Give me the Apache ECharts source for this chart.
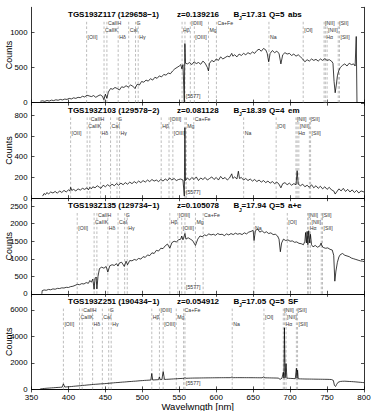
<!DOCTYPE html>
<html><head><meta charset="utf-8">
<script src="https://cdn.jsdelivr.net/npm/echarts@6/dist/echarts.min.js"></script>
<style>html,body{margin:0;padding:0;background:#fff}#c{width:374px;height:411px}</style>
</head><body><div id="c"></div>
<script>
// ---------- data ----------
const xTicks = [350, 400, 450, 500, 550, 600, 650, 700, 750, 800];
const objIds = ['TGS193Z117 (129658\u22121)', 'TGS193Z103 (129578\u22122)', 'TGS193Z135 (129734\u22121)', 'TGS193Z251 (190434\u22121)'];
const redshifts = [0.139216, 0.081128, 0.105078, 0.054912];
const bjMags = ['17.31', '18.39', '17.94', '17.05'];
const qualities = ['5', '4', '5', '5'];
const specTypes = ['abs', 'em', 'a+e', 'SF'];
const yMax = [1355, 918, 2720, 7200];
const yStep = [500, 200, 500, 2000];

const lineNames = ['[OII]', 'CaIIK', 'CaIIH', 'H\u03b4', 'CaI', 'G', 'H\u03b3', 'H\u03b2', '[OIII]', '[OIII]', 'Mg', 'Ca+Fe', 'Na', '[OI]', '[NII]', 'H\u03b1', '[NII]', '[SII]', '[SII]'];
const lineRest = [372.7, 393.4, 396.8, 410.2, 422.7, 430.8, 434.0, 486.1, 495.9, 500.7, 517.5, 526.9, 589.3, 630.0, 654.8, 656.3, 658.4, 671.6, 673.1];
const lineRow = [2, 1, 0, 2, 1, 0, 2, 1, 0, 2, 1, 0, 2, 1, 0, 2, 1, 0, 2];
const skyLine = 557.7;
const skyLabel = '[5577]';

const spec1 = [[362,20],[365,25],[368,18],[371,30],[374,22],[377,35],[380,28],[383,40],[386,33],[389,45],[392,38],[395,50],[398,45],[401,60],[404,52],[407,68],[410,60],[413,75],[416,70],[419,90],[422,80],[425,105],[428,95],[431,85],[434,100],[437,75],[440,95],[443,110],[446,90],[448,40],[450,120],[452,60],[454,150],[457,200],[460,190],[463,215],[466,200],[469,180],[472,225],[475,215],[478,240],[481,220],[484,250],[487,235],[490,200],[493,260],[496,250],[499,300],[502,290],[505,320],[508,305],[511,340],[514,320],[517,360],[520,345],[523,380],[526,365],[529,400],[532,390],[535,420],[538,410],[541,450],[544,480],[547,500],[550,520],[552,540],[553.5,480],[555,540],[556.8,10],[557.6,840],[558.4,560],[561,550],[564,570],[567,540],[570,580],[573,555],[576,570],[579,545],[582,590],[585,560],[588,500],[589.5,450],[591,560],[594,600],[597,580],[600,620],[603,600],[606,650],[609,620],[612,640],[615,660],[618,650],[621,700],[622.5,660],[625,680],[628,650],[631,690],[634,670],[637,700],[640,680],[643,710],[646,690],[649,720],[652,700],[655,740],[658,760],[661,730],[664,770],[667,750],[669,700],[671,580],[673,700],[676,740],[679,710],[682,730],[685,700],[687.5,550],[690,680],[693,710],[696,690],[699,700],[702,670],[705,690],[708,660],[711,680],[714,650],[717,620],[720,580],[723,610],[726,590],[729,620],[732,600],[735,615],[738,590],[741,620],[744,600],[747,625],[750,600],[753,610],[756,590],[758,560],[759.5,300],[761,140],[762.5,250],[764,380],[766,460],[768,500],[771,530],[774,550],[777,520],[780,560],[783,540],[786,550],[788,520],[789.5,940],[790.5,0],[800,0]];

const spec2 = [[365,20],[367,45],[369,35],[371,55],[373,40],[376,60],[379,50],[382,65],[385,48],[388,70],[391,55],[394,75],[397,60],[400,80],[402,70],[403,105],[404.5,75],[407,85],[410,70],[413,90],[416,78],[419,95],[422,85],[425,100],[427,80],[429,105],[431,90],[433,110],[436,100],[439,120],[442,105],[444,95],[447,125],[450,110],[453,130],[456,115],[459,135],[462,120],[465,140],[468,125],[471,145],[474,130],[477,150],[480,135],[483,155],[486,140],[489,160],[492,145],[495,165],[498,150],[501,170],[504,155],[507,175],[510,160],[513,180],[516,165],[519,175],[522,160],[525,180],[528,165],[531,185],[534,170],[537,195],[540,175],[543,190],[546,170],[549,180],[552,185],[555,175],[556.8,20],[557.6,680],[558.4,170],[561,195],[564,175],[567,200],[570,180],[573,205],[576,170],[579,195],[582,180],[585,200],[588,175],[591,190],[594,205],[597,180],[600,200],[603,175],[606,210],[609,185],[612,200],[615,175],[618,195],[621,235],[622.5,190],[625,205],[628,185],[630,260],[631.5,190],[634,200],[637,175],[640,190],[643,170],[646,185],[649,165],[652,180],[655,160],[658,175],[661,155],[664,170],[667,150],[670,165],[673,145],[676,160],[679,140],[682,155],[685,135],[687.5,100],[690,140],[693,150],[696,130],[699,145],[702,125],[705,140],[708,130],[709.5,265],[711,135],[714,120],[717,135],[720,110],[723,125],[726,105],[729,130],[732,100],[735,120],[738,95],[741,115],[744,90],[747,110],[750,85],[753,105],[756,80],[759,70],[761,40],[763,60],[766,90],[769,70],[772,95],[775,65],[778,85],[781,60],[784,80],[787,55],[790,75],[793,50],[796,70],[800,60]];

const spec3 = [[364,0],[364.5,90],[367,110],[370,100],[373,125],[376,115],[379,140],[382,130],[385,155],[388,150],[391,170],[394,165],[397,185],[400,180],[403,205],[406,215],[409,240],[412,270],[415,260],[418,290],[421,280],[424,320],[427,300],[429,380],[431,330],[433,420],[434.7,130],[436,430],[437.5,480],[438.5,140],[440,500],[442,720],[445,760],[448,730],[451,780],[453.3,620],[456,800],[459,830],[462,810],[465,860],[467,790],[469,880],[472,900],[475.6,780],[478,930],[480,830],[483,950],[486,940],[489,980],[492,960],[495,1010],[498,990],[501,1060],[504,1040],[507,1110],[510,1090],[513,1170],[516,1150],[519,1240],[522,1220],[525,1300],[528,1290],[531,1370],[534,1420],[537.2,1300],[540,1460],[543,1500],[546,1480],[549,1540],[552,1560],[553.3,1650],[555,1540],[557.7,1720],[559,1560],[562,1600],[565,1560],[568,1520],[571.9,1380],[575,1560],[578,1650],[581,1630],[584,1680],[587,1660],[590,1710],[593,1680],[596,1700],[599,1670],[602,1720],[605,1690],[608,1700],[611,1660],[614,1710],[617,1680],[620,1720],[623,1690],[626,1730],[629,1700],[632,1720],[635,1690],[638,1740],[641,1710],[644,1760],[647,1780],[650,1810],[651.2,1520],[653,1800],[656,1850],[659,1760],[662,1800],[665,1740],[668,1770],[671,1720],[674,1740],[677,1690],[680,1700],[683,1650],[685,1560],[686.8,1200],[688.5,1450],[691,1560],[694,1520],[697,1540],[700,1500],[703,1510],[706,1470],[709,1480],[712,1440],[715,1430],[718,1400],[720,1500],[721,1750],[722,1450],[723,1780],[724,1400],[725.2,1800],[726.5,1450],[727.5,1700],[729,1400],[731,1340],[734,1380],[737,1330],[740,1360],[742,1450],[743,1370],[745,1320],[748,1300],[751,1310],[754,1270],[757,1250],[759,1100],[760.5,360],[762,650],[764,900],[766,1050],[768,1120],[771,1150],[774,1100],[777,1080],[780,1060],[783,1020],[786,1000],[789,980],[792,960],[795,940],[798,930],[800,920]];

const spec4 = [[361,0],[362,30],[365,60],[368,75],[371,90],[374,100],[377,115],[380,125],[383,140],[386,150],[389,160],[391.5,170],[393.2,420],[395,180],[398,190],[401,205],[404,215],[407,235],[410,250],[413,265],[416,280],[419,300],[422,310],[425,330],[428,345],[431,360],[434,375],[437,390],[440,400],[443,415],[446,425],[449,435],[452,450],[455,465],[458,480],[461,495],[464,510],[467,520],[470,535],[473,550],[476,560],[479,575],[482,590],[485,600],[488,615],[491,625],[494,640],[497,655],[500,665],[503,680],[506,690],[509,700],[511.5,705],[512.8,1200],[514,710],[517,720],[520,730],[522,735],[523.1,950],[524.2,740],[526.5,745],[528.2,1350],[530,750],[533,760],[536,770],[539,780],[542,790],[545,800],[548,810],[551,820],[554,830],[556.5,835],[557.7,900],[559,840],[562,845],[565,850],[568,855],[571,858],[574,860],[577,862],[580,865],[583,868],[586,870],[589,872],[592,874],[595,876],[598,878],[601,880],[604,882],[607,883],[610,884],[613,885],[616,886],[619,886],[621.5,940],[623,887],[626,887],[629,888],[632,888],[635,887],[638,887],[641,886],[644,885],[647,884],[650,883],[653,882],[656,880],[659,878],[662,876],[664.5,950],[666,874],[669,872],[672,870],[675,866],[678,862],[681,858],[684,852],[686.5,760],[689,848],[690.8,1300],[691.6,850],[692.3,4650],[693.3,880],[694.5,1950],[695.7,845],[698,840],[701,830],[704,820],[707,810],[708.5,1600],[709.3,850],[710.1,1450],[711,800],[714,795],[717,790],[720,785],[723,782],[726,780],[729,778],[732,775],[735,772],[738,770],[741,768],[744,765],[747,762],[750,760],[753,755],[756,745],[758.5,680],[760,300],[761.5,220],[763,380],[765,540],[768,600],[771,615],[774,620],[777,610],[780,600],[783,590],[786,580],[789,565],[792,550],[795,535],[798,520],[800,510]];

const spectra = [spec1, spec2, spec3, spec4];

// ---------- layout ----------
const FONT = "'Liberation Sans', Arial, Helvetica, sans-serif";
const gridTop = [7.3, 102.9, 198.5, 294.1];
const gridH = 95.3;
const gridL = 31.5, gridW = 332.5;
const rowOff = [16, 23, 29.7];

const chart = echarts.init(document.getElementById('c'), null, {renderer: 'svg'});

const grid = [], xAxis = [], yAxis = [], series = [], graphic = [];
for (let p = 0; p < 4; p++) {
  grid.push({left: gridL, top: gridTop[p], width: gridW, height: gridH, containLabel: false, outerBoundsMode: 'none'});
  const axLine = {show: true, lineStyle: {color: '#000', width: 0.8}};
  const tick = {show: true, inside: true, length: 3, lineStyle: {color: '#000', width: 0.7}};
  xAxis.push({
    type: 'value', gridIndex: p, min: xTicks[0], max: xTicks[xTicks.length - 1], interval: 50,
    position: 'bottom', axisLine: axLine, axisTick: tick, splitLine: {show: false},
    axisLabel: {show: p === 3, fontSize: 8, color: '#000', margin: 4, fontFamily: FONT, formatter: v => String(v)},
    name: p === 3 ? 'Wavelwngth [nm]' : '', nameLocation: 'middle', nameGap: 12.5, nameMoveOverlap: false,
    nameTextStyle: {fontSize: 9.5, color: '#000', fontFamily: FONT}
  });
  xAxis.push({
    type: 'value', gridIndex: p, min: xTicks[0], max: xTicks[xTicks.length - 1], interval: 50,
    position: 'top', axisLine: axLine, axisTick: tick, splitLine: {show: false}, axisLabel: {show: false}
  });
  yAxis.push({
    type: 'value', gridIndex: p, min: 0, max: yMax[p], interval: yStep[p], position: 'left',
    axisLine: axLine, axisTick: tick, splitLine: {show: false},
    axisLabel: {fontSize: 7.8, lineHeight: 7, color: '#000', margin: 4, showMaxLabel: false, fontFamily: FONT, formatter: v => String(v)},
    name: 'Counts', nameLocation: 'middle', nameGap: 18, nameRotate: 90, nameMoveOverlap: false,
    nameTextStyle: {fontSize: 9, color: '#000', fontFamily: FONT}
  });
  yAxis.push({
    type: 'value', gridIndex: p, min: 0, max: yMax[p], interval: yStep[p], position: 'right',
    axisLine: axLine, axisTick: tick, splitLine: {show: false}, axisLabel: {show: false}
  });

  const marks = lineRest.map((r, i) => [r * (1 + redshifts[p]), lineRow[i], i]);
  marks.push([skyLine, 3, -1]);
  series.push({
    type: 'custom', xAxisIndex: 2 * p, yAxisIndex: 2 * p, z: 1, clip: false, silent: true,
    data: marks,
    renderItem: function (params, api) {
      const wl = api.value(0), row = api.value(1), idx = api.value(2);
      const pt = api.coord([wl, 0]);
      const cs = params.coordSys;
      const x = pt[0];
      const bottom = cs.y + cs.height;
      const top = cs.y + 14.5;
      const label = row === 3 ? skyLabel : lineNames[idx];
      const ty = row === 3 ? bottom - 6.5 : cs.y + rowOff[row];
      return {
        type: 'group',
        children: [
          {type: 'line', shape: {x1: x, y1: top, x2: x, y2: bottom},
           style: {stroke: '#a0a0a0', lineWidth: 0.7, lineDash: [2.6, 2]}},
          {type: 'text', x: x + 1, y: ty,
           style: {text: label, font: '5.2px ' + FONT, fill: '#333', verticalAlign: 'middle', align: 'left'}}
        ]
      };
    }
  });
  series.push({
    type: 'line', xAxisIndex: 2 * p, yAxisIndex: 2 * p, z: 3,
    data: spectra[p], showSymbol: false, symbol: 'none', silent: true,
    lineStyle: {color: '#000', width: 0.75}
  });

  const ty = gridTop[p] + 7.3;
  const tf = 'bold 8px ' + FONT;
  const mk = (x, text, font, dy) => ({type: 'text', x: x, y: ty + (dy || 0), silent: true,
    style: {text: text, font: font || tf, fill: '#000', verticalAlign: 'middle', align: 'left'}});
  graphic.push(mk(68, objIds[p]));
  graphic.push(mk(177, 'z=' + redshifts[p].toFixed(6)));
  graphic.push(mk(233.5, 'B'));
  graphic.push(mk(239, 'J', 'bold 5px ' + FONT, 3.8));
  graphic.push(mk(241.5, '=' + bjMags[p]));
  graphic.push(mk(269, 'Q=' + qualities[p]));
  graphic.push(mk(288, specTypes[p]));
}

chart.setOption({
  animation: false,
  backgroundColor: '#fff',
  grid: grid, xAxis: xAxis, yAxis: yAxis, series: series, graphic: graphic
});
</script></body></html>
